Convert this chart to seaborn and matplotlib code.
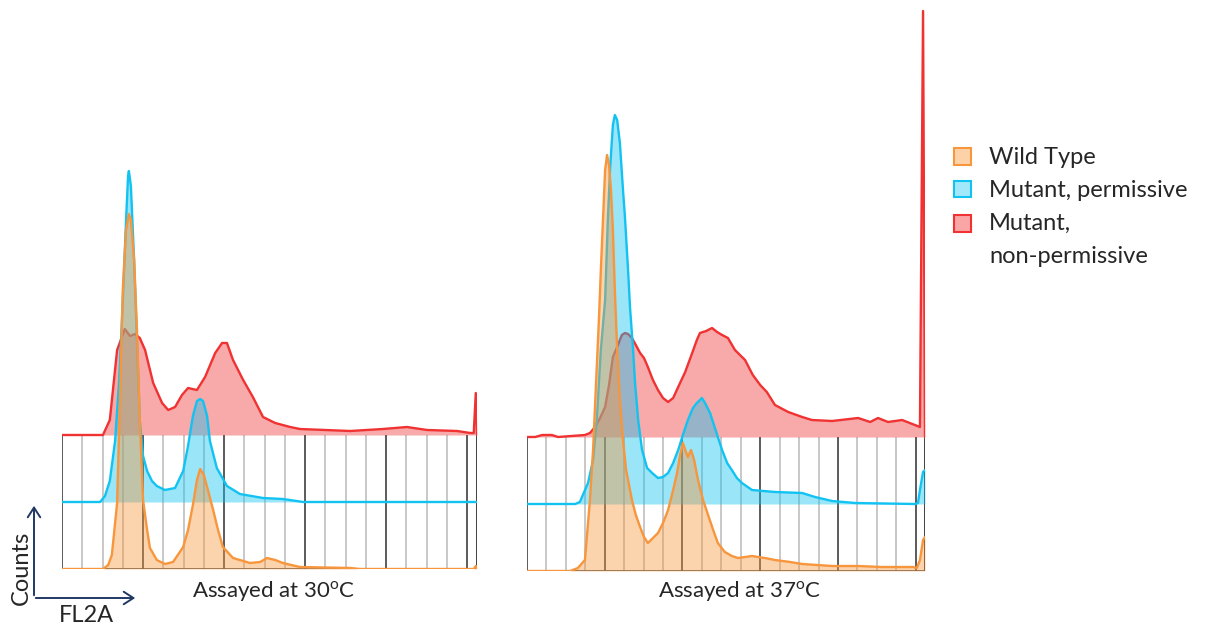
import numpy as np
import matplotlib
matplotlib.use("Agg")
import matplotlib.pyplot as plt
from matplotlib.patches import Patch, Rectangle
from matplotlib.legend_handler import HandlerPatch
import seaborn as sns

# FL2A channel (0-1024) and counts
# panel 1 - assayed at 30C
wt30_x = [0, 101, 114, 123, 136, 143, 150, 158, 165, 170, 178, 185, 192, 200, 210, 217, 234, 254, 274, 299,
          311, 323, 333, 341, 350, 360, 373, 385, 397, 422, 464, 489, 506, 526, 545, 587, 711, 735, 1016, 1021, 1024]
wt30_y = [0, 0, 4, 14, 66, 169, 279, 339, 355, 349, 309, 239, 149, 69, 39, 21, 9, 5, 7, 22,
          39, 64, 89, 100, 94, 79, 59, 39, 22, 11, 6, 7, 11, 9, 6, 2, 1, 0, 0, 3, 0]

mp30_x = [0, 94, 106, 118, 131, 141, 150, 158, 163, 165, 170, 178, 185, 192, 200, 210, 222, 234, 254, 279,
          299, 311, 323, 333, 341, 348, 358, 365, 382, 407, 439, 496, 545, 595, 1024]
mp30_y = [0, 0, 6, 21, 61, 121, 201, 281, 326, 331, 316, 241, 161, 81, 46, 31, 21, 16, 12, 14,
          31, 56, 86, 101, 103, 101, 86, 61, 34, 16, 8, 4, 3, 0, 0]

mn30_x = [0, 101, 118, 136, 155, 168, 180, 192, 205, 225, 247, 262, 279, 296, 311, 333, 353, 378, 395, 407,
          422, 447, 471, 496, 526, 563, 587, 711, 792, 851, 901, 975, 1007, 1016, 1021, 1024]
mn30_y = [0, 0, 15, 85, 106, 99, 101, 97, 85, 52, 32, 25, 28, 40, 47, 45, 58, 82, 92, 92,
          75, 55, 38, 18, 12, 8, 6, 4, 6, 8, 5, 4, 2, 2, 42, 0]

# panel 2 - assayed at 37C
wt37_x = [0, 111, 131, 149, 162, 170, 178, 185, 190, 196, 201, 206, 211, 216, 221, 226, 232, 239, 247, 255,
          270, 280, 291, 301, 311, 324, 337, 350, 363, 376, 386, 394, 401, 409, 414, 422, 430, 440, 453, 466,
          479, 491, 509, 527, 543, 561, 579, 594, 612, 638, 677, 708, 785, 852, 913, 993, 1003, 1011, 1019, 1024]
wt37_y = [0, 0, 3, 11, 71, 121, 191, 251, 301, 356, 401, 416, 406, 381, 341, 281, 221, 171, 131, 101,
          71, 56, 44, 34, 28, 33, 38, 48, 61, 81, 98, 116, 128, 119, 114, 121, 111, 91, 71, 56,
          41, 28, 19, 15, 13, 14, 15, 14, 13, 11, 9, 7, 5, 5, 4, 4, 3, 11, 31, 34]

mp37_x = [0, 124, 136, 157, 170, 180, 190, 201, 208, 214, 221, 226, 232, 239, 247, 252, 260, 265, 273, 278,
          286, 296, 309, 322, 337, 350, 363, 376, 389, 401, 414, 427, 437, 445, 450, 458, 471, 481, 491, 502,
          515, 527, 540, 553, 579, 638, 708, 741, 785, 844, 998, 1006, 1011, 1019, 1024]
mp37_y = [0, 0, 2, 21, 44, 87, 154, 204, 284, 337, 379, 389, 384, 361, 314, 287, 234, 197, 154, 121,
          84, 54, 36, 31, 26, 27, 31, 41, 54, 69, 84, 96, 101, 104, 106, 101, 91, 79, 67, 54,
          41, 34, 26, 21, 14, 12, 11, 7, 3, 1, 0, 1, 14, 32, 34]

mn37_x = [0, 21, 39, 64, 80, 149, 162, 175, 188, 201, 211, 221, 234, 244, 252, 260, 270, 280, 291, 301,
          311, 324, 337, 350, 363, 376, 389, 407, 425, 437, 445, 461, 476, 489, 502, 517, 535, 561, 581, 600,
          617, 638, 672, 708, 733, 785, 852, 883, 903, 929, 965, 998, 1011, 1019, 1024]
mn37_y = [0, 0, 2, 2, 0, 2, 4, 10, 19, 30, 52, 80, 92, 102, 104, 103, 99, 92, 84, 79,
          70, 57, 47, 39, 35, 39, 50, 65, 84, 97, 104, 106, 109, 105, 102, 99, 87, 77, 62, 52,
          45, 32, 25, 20, 17, 16, 19, 15, 19, 15, 17, 12, 10, 426, 0]

labels = ["Wild Type", "Mutant, permissive", "Mutant,\nnon-permissive"]
line_cols = ["#F7963C", "#12C3F2", "#F03232"]
face_cols = ["#FDD2A9", "#A2E8FB", "#FBA6A6"]
offsets = [0, 67, 134]          # staggered baselines of the three traces
major = np.arange(0, 1001, 200)
minor = np.setdiff1d(np.arange(0, 1001, 50), major)

sns.set_style("white")
plt.rcParams["font.family"] = ["Lato", "DejaVu Sans"]
plt.rcParams["mathtext.fontset"] = "custom"
plt.rcParams["mathtext.rm"] = "Lato"

fig = plt.figure(figsize=(12.09, 6.28), dpi=100)
W, H = 1209, 628

panels = [
    (62, 415, 569, [(wt30_x, wt30_y), (mp30_x, mp30_y), (mn30_x, mn30_y)], "30", 274),
    (527, 398, 571, [(wt37_x, wt37_y), (mp37_x, mp37_y), (mn37_x, mn37_y)], "37", 740),
]

for left, width, base, series, temp, tx in panels:
    ax = fig.add_axes([left / W, (H - base) / H, width / W, base / H])
    ax.set_xlim(0, 1024)
    ax.set_ylim(0, base)
    ax.axis("off")
    top = offsets[2]
    # grid box under the traces
    ax.vlines(minor, 0, top, color="#c4c4c4", lw=1.3, zorder=0)
    ax.vlines(major, 0, top, color="#404040", lw=1.2, zorder=0)
    ax.vlines([1024], 0, top, color="#404040", lw=1.4, zorder=0)
    ax.hlines([0], 0, 1024, color="#4a4a4a", lw=1.2, zorder=0)
    # back to front: red, blue, orange
    for k in [2, 1, 0]:
        xs, ys = series[k]
        yy = np.array(ys) + offsets[k]
        ax.fill_between(xs, offsets[k], yy, color=line_cols[k], alpha=0.42, lw=0, zorder=2 + 3 - k)
        sns.lineplot(x=xs, y=yy, ax=ax, color=line_cols[k], lw=1.7, zorder=2 + 3 - k, estimator=None)
    fig.text(tx / W, 1 - 592 / H, "Assayed at " + temp + r"$^{\mathrm{o}}$C", ha="center", va="center", fontsize=16)


def first_line_patch(legend, orig_handle, xdescent, ydescent, width, height, fontsize):
    # square sits next to the first line of the two-line label
    return Rectangle((-xdescent, -ydescent + 12), width, height)


handles = [Patch(facecolor=face_cols[i], edgecolor=line_cols[i], lw=1.5, label=labels[i]) for i in range(3)]
leg = fig.legend(handles=handles, loc="upper left", bbox_to_anchor=(945 / W, 1 - 138 / H), frameon=False,
                 borderaxespad=0, fontsize=17, handlelength=0.72, handleheight=0.72, handletextpad=0.75,
                 labelspacing=0.5, handler_map={handles[2]: HandlerPatch(patch_func=first_line_patch)})
for t in leg.get_texts():
    t.set_linespacing(1.7)

# axis arrows at the lower left
arrow = dict(arrowstyle="->,head_length=0.7,head_width=0.45", color="#1F3864", lw=1.4)
fig.add_artist(plt.Annotation("", xy=(34 / W, 1 - 503 / H), xytext=(34 / W, 1 - 598 / H),
                              xycoords="figure fraction", arrowprops=arrow))
fig.add_artist(plt.Annotation("", xy=(138 / W, 1 - 598 / H), xytext=(33 / W, 1 - 598 / H),
                              xycoords="figure fraction", arrowprops=arrow))
fig.text(21 / W, 1 - 568 / H, "Counts", rotation=90, ha="center", va="center", fontsize=17)
fig.text(86 / W, 1 - 616 / H, "FL2A", ha="center", va="center", fontsize=17)

fig.savefig("out.png", dpi=100)
